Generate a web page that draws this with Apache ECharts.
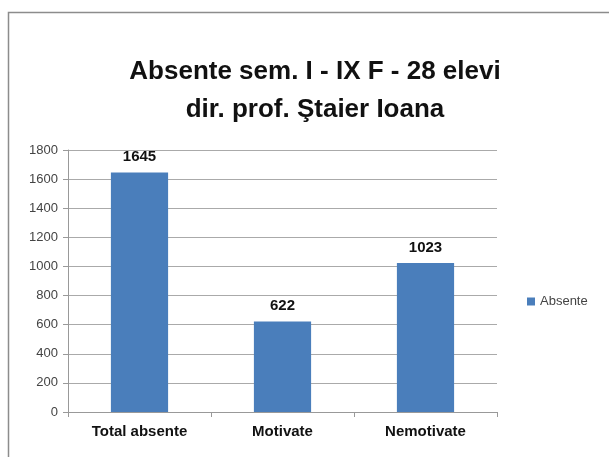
<!DOCTYPE html>
<html>
<head>
<meta charset="utf-8">
<script src="https://cdn.jsdelivr.net/npm/echarts@6/dist/echarts.min.js"></script>
<style>
  html, body { margin: 0; padding: 0; background: #fff; }
  #chart { width: 609px; height: 457px; }
</style>
</head>
<body>
<div id="chart"></div>
<script>
const categories = ['Total absente', 'Motivate', 'Nemotivate']
const absente = [1645, 622, 1023]
const yTicks = [0, 1800, 200]   // min, max, interval

const font = 'Liberation Sans, Arial, sans-serif'
const chart = echarts.init(document.getElementById('chart'))
chart.setOption({
  animation: false,
  title: {
    text: 'Absente sem. I - IX F - 28 elevi\ndir. prof. Ştaier Ioana',
    left: 310,
    textAlign: 'center',
    top: 48,
    textStyle: {
      fontFamily: font,
      fontWeight: 'bold',
      fontSize: 26,
      lineHeight: 38,
      color: '#111'
    }
  },
  graphic: [{
    type: 'rect',
    shape: { x: 8.5, y: 12.5, width: 620, height: 460 },
    style: { fill: 'none', stroke: '#8c8c8c', lineWidth: 1.5 },
    silent: true
  }],
  legend: {
    data: ['Absente'],
    left: 522,
    top: 290,
    itemWidth: 8,
    itemHeight: 8,
    itemGap: 4,
    icon: 'rect',
    textStyle: { fontFamily: font, fontSize: 13, color: '#444' }
  },
  grid: { left: 68, right: 112, top: 150, bottom: 45 },
  xAxis: {
    type: 'category',
    data: categories,
    axisTick: { show: true, length: 5, lineStyle: { color: '#999' } },
    axisLine: { lineStyle: { color: '#999' } },
    axisLabel: {
      margin: 12,
      fontFamily: font,
      fontWeight: 'bold',
      fontSize: 15,
      color: '#111'
    }
  },
  yAxis: {
    type: 'value',
    min: yTicks[0],
    max: yTicks[1],
    interval: yTicks[2],
    axisLine: { show: true, lineStyle: { color: '#999' } },
    axisTick: { show: true, length: 5, lineStyle: { color: '#999' } },
    axisLabel: {
      margin: 10,
      fontFamily: font,
      fontSize: 13,
      color: '#444',
      formatter: v => String(v)
    },
    splitLine: { lineStyle: { color: '#aaa' } }
  },
  series: [{
    name: 'Absente',
    type: 'bar',
    data: absente,
    barWidth: '40%',
    itemStyle: { color: '#4a7ebb' },
    label: {
      show: true,
      position: 'top',
      distance: 8,
      fontFamily: font,
      fontWeight: 'bold',
      fontSize: 15,
      color: '#111'
    }
  }]
})
</script>
</body>
</html>
